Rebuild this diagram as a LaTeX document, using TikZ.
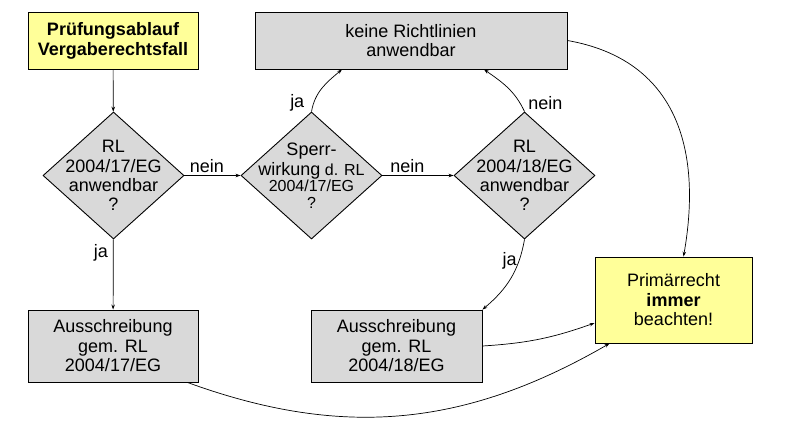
\documentclass[tikz,border=0pt]{standalone}
\usepackage{fontspec}
\setmainfont{Liberation Sans}
\usetikzlibrary{shapes.geometric,arrows.meta}
\definecolor{gelb}{RGB}{255,255,153}
\definecolor{grau}{RGB}{217,217,217}
\newcommand{\gross}{\fontsize{18}{17}\selectfont}
\tikzset{
  kasten/.style={draw, rectangle, fill=grau, line width=0.9pt, align=center,
    font=\fontsize{18}{19.5}\selectfont, inner sep=0pt},
  raute/.style={draw, diamond, fill=grau, line width=0.9pt, inner sep=0pt,
    minimum width=141pt, minimum height=127pt},
  rtext/.style={align=center, font=\fontsize{18}{19.3}\selectfont, inner sep=0pt},
  pfeil/.style={-{Stealth[length=5pt,width=3.5pt]}, line width=0.7pt},
  marke/.style={font=\fontsize{18}{19.5}\selectfont, inner sep=2pt}
}
\begin{document}
\begin{tikzpicture}[x=1pt,y=1pt]
        \useasboundingbox (0,0) rectangle (794,-428);
        % 定义坐标
        \coordinate (S) at (113,-40.5);
        \coordinate (K) at (411,-40.5);
        \coordinate (R1) at (113.5,-175.5);
        \coordinate (R2) at (311.5,-175.5);
        \coordinate (R3) at (524.5,-175.5);
        \coordinate (A1) at (113,-346);
        \coordinate (A2) at (396.5,-346);
        \coordinate (P) at (673.5,-300);

        % 绘制节点
        \node[kasten, fill=gelb, minimum width=170pt, minimum height=57pt,
          font=\fontsize{18}{20}\selectfont\bfseries] (start) at (S)
          {Prüfungsablauf\\Vergaberechtsfall};
        \node[kasten, minimum width=312pt, minimum height=57pt] (keine) at (K)
          {keine Richtlinien\\anwendbar};
        \node[raute, label={[rtext]center:{RL\\2004/17/EG\\anwendbar\\?}}] (rl17) at (R1) {};
        \node[raute, label={[rtext, font=\fontsize{16}{16.5}\selectfont]center:{{\gross Sperr-}\\[2.5pt]{\gross wirkung} d. RL\\2004/17/EG\\?}}] (sperr) at (R2) {};
        \node[raute, label={[rtext]center:{RL\\2004/18/EG\\anwendbar\\?}}] (rl18) at (R3) {};
        \node[kasten, minimum width=170pt, minimum height=72pt] (aus17) at (A1)
          {Ausschreibung\\gem. RL\\2004/17/EG};
        \node[kasten, minimum width=171pt, minimum height=72pt] (aus18) at (A2)
          {Ausschreibung\\gem. RL\\2004/18/EG};
        \node[kasten, fill=gelb, minimum width=157pt, minimum height=86pt] (prim) at (P)
          {Primärrecht\\\textbf{immer}\\beachten!};

        % 绘制箭头
        \draw[pfeil] (start) -- (rl17);
        \draw[pfeil] (rl17) -- node[marke, pos=0.4, above] {nein} (sperr);
        \draw[pfeil] (rl17) -- node[marke, pos=0.2, left=3pt] {ja} (aus17);
        \draw[pfeil] (sperr.north) to[out=80, in=220] node[marke, pos=0.15, left=7pt] {ja} ([xshift=-69pt]keine.south);
        \draw[pfeil] (sperr) -- node[marke, pos=0.35, above] {nein} (rl18);
        \draw[pfeil] (rl18.north) to[out=115, in=-35] node[marke, pos=0.15, right=6pt] {nein} ([xshift=73pt]keine.south);
        \draw[pfeil] (rl18.south) to[out=-100, in=40] node[marke, pos=0.25, left] {ja} (aus18.north east);
        \draw[pfeil] (keine.east) to[out=-10, in=80, looseness=1.15] ([xshift=10pt]prim.north);
        \draw[pfeil] (aus18.east) to[bend right=8] ([yshift=-23pt]prim.west);
        \draw[pfeil] ([xshift=-11pt]aus17.south east) to[out=-20, in=210] ([xshift=15pt]prim.south west);
    \end{tikzpicture}
\end{document}
